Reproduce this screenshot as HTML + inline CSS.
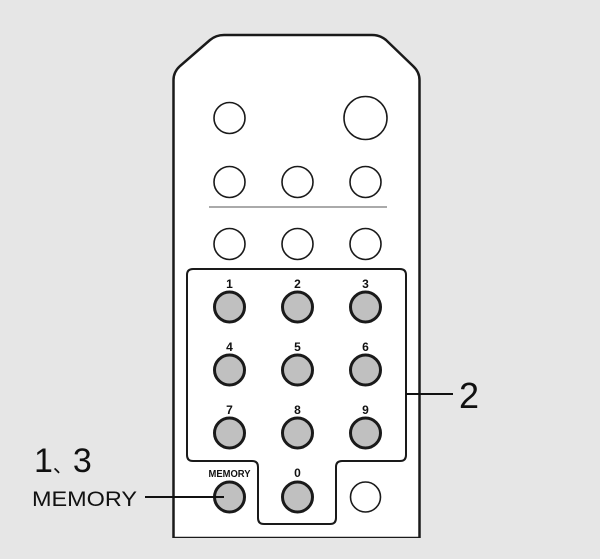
<!DOCTYPE html>
<html><head><style>
html,body{margin:0;padding:0;background:#e6e6e6;width:600px;height:559px;overflow:hidden}
</style></head><body>
<svg width="600" height="559" viewBox="0 0 600 559" xmlns="http://www.w3.org/2000/svg">
<rect width="600" height="559" fill="#e6e6e6"/>
<path d="M173.5,538 L173.5,80 Q173.5,72 180,66 L210,40 Q216,35 224,35 L372,35 Q380,35 386,40 L413,66 Q419.5,72 419.5,80 L419.5,538 Z" fill="#fff" stroke="#1a1a1a" stroke-width="2.5"/>
<rect x="170" y="538" width="253" height="21" fill="#e6e6e6"/>
<g fill="#fff" stroke="#1a1a1a" stroke-width="1.6">
<circle cx="229.5" cy="118" r="15.5"/>
<circle cx="365.5" cy="118" r="21.5"/>
<circle cx="229.5" cy="182" r="15.5"/>
<circle cx="297.5" cy="182" r="15.5"/>
<circle cx="365.5" cy="182" r="15.5"/>
<circle cx="229.5" cy="244" r="15.5"/>
<circle cx="297.5" cy="244" r="15.5"/>
<circle cx="365.5" cy="244" r="15.5"/>
<circle cx="365.5" cy="497" r="15"/>
</g>
<line x1="209" y1="207" x2="387" y2="207" stroke="#555" stroke-width="1"/>
<path d="M193,269 L400,269 Q406,269 406,275 L406,455 Q406,461 400,461 L342,461 Q336,461 336,467 L336,518 Q336,524 330,524 L264,524 Q258,524 258,518 L258,467 Q258,461 252,461 L193,461 Q187,461 187,455 L187,275 Q187,269 193,269 Z" fill="none" stroke="#1a1a1a" stroke-width="2"/>
<g fill="#c0c0c0" stroke="#1a1a1a" stroke-width="3">
<circle cx="229.5" cy="307" r="15"/><circle cx="297.5" cy="307" r="15"/><circle cx="365.5" cy="307" r="15"/>
<circle cx="229.5" cy="370" r="15"/><circle cx="297.5" cy="370" r="15"/><circle cx="365.5" cy="370" r="15"/>
<circle cx="229.5" cy="433" r="15"/><circle cx="297.5" cy="433" r="15"/><circle cx="365.5" cy="433" r="15"/>
<circle cx="229.5" cy="497" r="15"/><circle cx="297.5" cy="497" r="15"/>
</g>
<g font-family="Liberation Sans, sans-serif" font-weight="bold" font-size="12" text-anchor="middle" fill="#111">
<text x="229.5" y="288">1</text><text x="297.5" y="288">2</text><text x="365.5" y="288">3</text>
<text x="229.5" y="351">4</text><text x="297.5" y="351">5</text><text x="365.5" y="351">6</text>
<text x="229.5" y="414">7</text><text x="297.5" y="414">8</text><text x="365.5" y="414">9</text>
<text x="297.5" y="477">0</text>
<text x="229.5" y="477" font-size="10" textLength="42" lengthAdjust="spacingAndGlyphs">MEMORY</text>
</g>
<line x1="406" y1="394" x2="453" y2="394" stroke="#111" stroke-width="2"/>
<text x="459" y="408" font-family="Liberation Sans, sans-serif" font-size="36" fill="#111">2</text>
<text x="34" y="472" font-family="Liberation Sans, 'Noto Sans CJK SC', sans-serif" font-size="34" fill="#111">1<tspan font-size="20">、</tspan>3</text>
<text x="32" y="506" font-family="Liberation Sans, sans-serif" font-size="21" fill="#111" textLength="105" lengthAdjust="spacingAndGlyphs">MEMORY</text>
<line x1="145" y1="497" x2="224" y2="497" stroke="#111" stroke-width="2"/>
</svg>
</body></html>
